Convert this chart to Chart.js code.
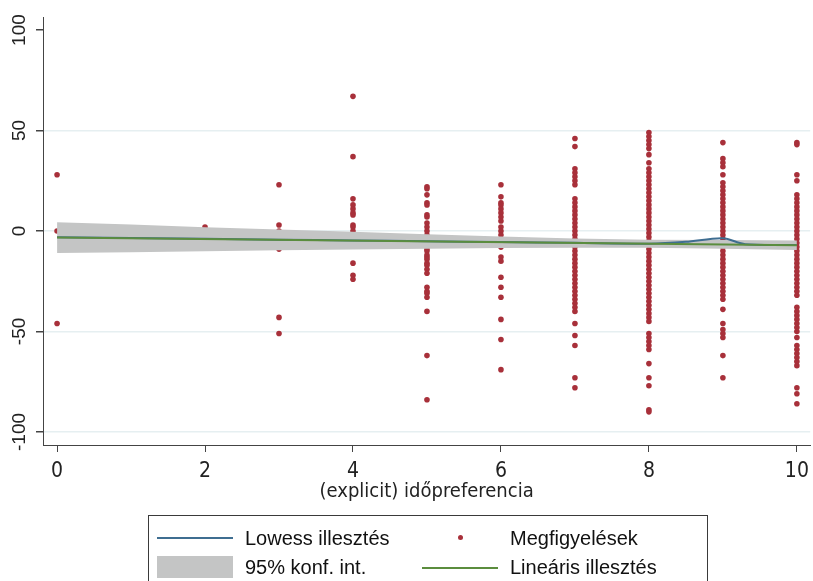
<!DOCTYPE html>
<html>
<head>
<meta charset="utf-8">
<script src="https://cdn.jsdelivr.net/npm/chart.js@4/dist/chart.umd.min.js"></script>
<style>
  html, body { margin: 0; padding: 0; background: #fff; }
  #wrap { position: relative; width: 813px; height: 581px; overflow: hidden; }
  #legend { position: absolute; left: 148px; top: 515px; width: 560px; height: 90px;
            border: 1px solid #3a3a3a; box-sizing: border-box; }
  .lg { position: absolute; font-family: "Liberation Sans", Arial, sans-serif; font-size: 20px;
        color: #111; line-height: 22px; white-space: nowrap; }
  .sw { position: absolute; }
</style>
</head>
<body>
<div id="wrap">
  <canvas id="chart" width="813" height="581"></canvas>
  <div id="legend">
    <div class="sw" style="left:8px;top:21px;width:76px;height:2px;background:#3f6e91"></div>
    <div class="lg" style="left:96px;top:11px">Lowess illesztés</div>
    <div class="sw" style="left:309px;top:19px;width:5px;height:5px;border-radius:50%;background:#a8303a"></div>
    <div class="lg" style="left:361px;top:11px">Megfigyelések</div>
    <div class="sw" style="left:8px;top:40px;width:76px;height:22px;background:#c4c5c5"></div>
    <div class="lg" style="left:96px;top:40px">95% konf. int.</div>
    <div class="sw" style="left:273px;top:51px;width:76px;height:2px;background:#5b8d3e"></div>
    <div class="lg" style="left:361px;top:40px">Lineáris illesztés</div>
  </div>
</div>
<script>
// observations per x value (időpreferencia)
var obs0 = [28, 0, -46];
var obs2 = [2];
var obs3 = [23, 3, 0, -9, -43, -51];
var obs4 = [67, 37, 16, 13, 11, 9, 8, 3, 2, 0, -16, -22, -24];
var obs5 = [22, 21, 18, 14, 13, 8, 7, 4, 2, 0, -2, -5, -7, -9, -10, -12, -13, -14, -16, -17, -19, -21,
            -28, -30, -31, -33, -40, -62, -84];
var obs6 = [23, 17, 14, 13, 11, 9, 7, 5, 2, 0, -2, -8, -13, -15, -23, -28, -33, -44, -54, -69];
var obs7 = [46, 42, 31, 29, 27, 25, 23, 16, 14, 12, 10, 8, 6, 4, 2, 0, -2, -4, -6, -8, -10, -12, -14,
            -16, -18, -20, -22, -24, -26, -28, -30, -32, -34, -36, -38, -40, -46, -52, -57, -73, -78];
var obs8 = [49, 47, 45, 43, 41, 38, 34, 31, 29, 27, 25, 23, 21, 19, 17, 15, 13, 11, 9, 7, 5, 3, 1, -1,
            -3, -5, -7, -9, -11, -13, -15, -17, -19, -21, -23, -25, -27, -29, -31, -33, -35, -37, -39,
            -41, -43, -45, -51, -53, -55, -57, -59, -66, -73, -77, -89, -90];
var obs9 = [44, 36, 34, 32, 28, 24, 22, 20, 18, 16, 14, 12, 10, 8, 6, 4, 2, 0, -2, -4, -6, -8, -10, -12,
            -14, -16, -18, -20, -22, -24, -26, -28, -30, -32, -34, -39, -46, -49, -51, -53, -62, -73];
var obs10 = [44, 43, 28, 25, 18, 16, 14, 12, 10, 8, 6, 4, 2, 0, -2, -4, -6, -8, -10, -12, -14, -16, -18,
             -20, -22, -24, -26, -28, -30, -32, -38, -40, -42, -44, -46, -48, -50, -53, -57, -59, -61,
             -63, -65, -67, -78, -81, -86];
var obsX = [0, 2, 3, 4, 5, 6, 7, 8, 9, 10];
var obsY = [obs0, obs2, obs3, obs4, obs5, obs6, obs7, obs8, obs9, obs10];

// linear fit and its 95% band
var lfitX = [0, 10];
var lfitY = [-3.2, -7.1];
var ciX = [0, 1, 2, 3, 4, 5, 6, 7, 8, 9, 10];
var ciHi = [4.4, 3.2, 1.9, 0.8, -0.4, -1.6, -2.7, -3.7, -4.3, -4.5, -4.7];
var ciLo = [-11.0, -10.6, -10.1, -9.6, -9.2, -8.8, -8.5, -8.3, -8.3, -8.8, -9.5];

// lowess
var lowX = [0, 2, 3, 4, 5, 6, 7, 8, 8.5, 9, 9.3, 10];
var lowY = [-3.1, -3.9, -4.3, -4.7, -5.1, -5.5, -5.9, -6.3, -5.4, -3.6, -6.6, -7.0];

var xTicks = [0, 2, 4, 6, 8, 10];
var yTicks = [-100, -50, 0, 50, 100];

function pts(xs, ys) { return xs.map(function (x, i) { return { x: x, y: ys[i] }; }); }

var obsPts = [];
obsX.forEach(function (x, i) {
  obsY[i].forEach(function (y) { obsPts.push({ x: x, y: y }); });
});

var yLabels = {
  id: "yLabels",
  afterDraw: function (chart) {
    var ctx = chart.ctx, ys = chart.scales.y;
    ctx.save();
    ctx.fillStyle = "#222";
    ctx.font = "19px 'Liberation Sans', Arial, sans-serif";
    ctx.textAlign = "center";
    ctx.textBaseline = "middle";
    yTicks.forEach(function (v) {
      var py = ys.getPixelForValue(v);
      ctx.save();
      ctx.translate(20, py);
      ctx.rotate(-Math.PI / 2);
      ctx.fillText(String(v), 0, 0);
      ctx.restore();
    });
    ctx.restore();
  }
};

var narrow = "'Liberation Sans Narrow', 'Arial Narrow', 'DejaVu Sans Condensed', sans-serif";

new Chart(document.getElementById("chart").getContext("2d"), {
  type: "scatter",
  data: {
    datasets: [
      { label: "Megfigyelések", data: obsPts, order: 5, pointRadius: 2.8, pointHoverRadius: 2.8,
        backgroundColor: "#a8303a", borderWidth: 0 },
      { label: "95% konf. int.", data: pts(ciX, ciHi), order: 4, showLine: true, pointRadius: 0,
        borderWidth: 0, borderColor: "rgba(0,0,0,0)", backgroundColor: "#c4c5c5", fill: "+1" },
      { label: "ci lo", data: pts(ciX, ciLo), order: 4, showLine: true, pointRadius: 0,
        borderWidth: 0, borderColor: "rgba(0,0,0,0)", fill: false },
      { label: "Lowess illesztés", data: pts(lowX, lowY), order: 2, showLine: true, pointRadius: 0,
        borderWidth: 2, borderColor: "#3f6e91", tension: 0.3, fill: false },
      { label: "Lineáris illesztés", data: pts(lfitX, lfitY), order: 1, showLine: true, pointRadius: 0,
        borderWidth: 2, borderColor: "#5b8d3e", fill: false }
    ]
  },
  options: {
    responsive: false,
    animation: false,
    layout: { padding: { top: 17, right: 0, bottom: 76, left: 0 } },
    plugins: { legend: { display: false }, tooltip: { enabled: false } },
    scales: {
      x: {
        type: "linear", min: -0.19, max: 10.18,
        afterBuildTicks: function (s) { s.ticks = xTicks.map(function (v) { return { value: v }; }); },
        afterFit: function (s) { s.height = 60; s.paddingRight = 0; },
        grid: { drawOnChartArea: false, drawTicks: true, tickLength: 7, tickColor: "#444" },
        border: { color: "#444", width: 1 },
        ticks: { color: "#222", padding: 7, maxRotation: 0, font: { family: narrow, size: 21 } },
        title: { display: true, text: "(explicit) időpreferencia", color: "#222", padding: { top: 0, bottom: 1 },
                 font: { family: narrow, size: 20 } }
      },
      y: {
        type: "linear", min: -106.5, max: 106.5,
        afterBuildTicks: function (s) { s.ticks = yTicks.map(function (v) { return { value: v }; }); },
        afterFit: function (s) { s.width = 43; },
        grid: { drawTicks: true, tickLength: 7, tickColor: "#444", lineWidth: 1.5,
                color: function (c) { return c.tick && c.tick.value === 100 ? "rgba(0,0,0,0)" : "#e6eff1"; } },
        border: { color: "#444", width: 1 },
        ticks: { display: false }
      }
    }
  },
  plugins: [yLabels]
});
</script>
</body>
</html>
